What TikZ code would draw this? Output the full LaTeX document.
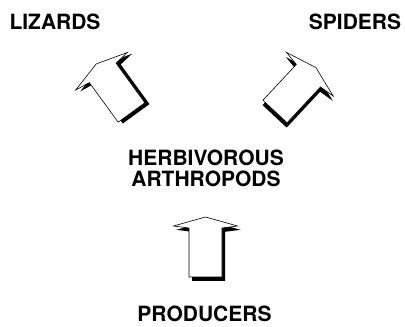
\documentclass[tikz,border=0pt]{standalone}
\usepackage{fontspec}
\setmainfont{TeX Gyre Heros}
\tikzset{
  lbl/.style={font=\bfseries\fontsize{21}{21}\selectfont, inner sep=0pt, anchor=base},
  arrowbody/.style={fill=white, draw=black, line width=0.6pt, line join=miter},
  arrowshadow/.style={fill=black},
  fatarrow/.pic={
    \fill[arrowshadow, shift={(3pt,-3.8pt)}] (-16.5pt,0pt) -- (-16.5pt,49pt) -- (-32pt,51pt) -- (0pt,60pt) -- (32pt,51pt) -- (16.5pt,49pt) -- (16.5pt,0pt) -- cycle;
    \draw[arrowbody] (-16.5pt,0pt) -- (-16.5pt,49pt) -- (-32pt,51pt) -- (0pt,60pt) -- (32pt,51pt) -- (16.5pt,49pt) -- (16.5pt,0pt) -- cycle;
  }
}
\begin{document}
\begin{tikzpicture}[x=1pt,y=1pt]
  \useasboundingbox (0,0) rectangle (405,327);
  \node[lbl] (lizards) at (55,297) {LIZARDS};
  \node[lbl] (spiders) at (355,297) {SPIDERS};
  \node[lbl] (herb) at (206,161) {HERBIVOROUS};
  \node[lbl] (arth) at (206,140) {ARTHROPODS};
  \node[lbl] (prod) at (204.5,5) {PRODUCERS};
  \pic[rotate=36] (leftarrow) at (131.5,214.5) {fatarrow};
  \pic[rotate=-43] (rightarrow) at (275,215.5) {fatarrow};
  \pic (bottomarrow) at (205.5,50) {fatarrow};
\end{tikzpicture}
\end{document}
